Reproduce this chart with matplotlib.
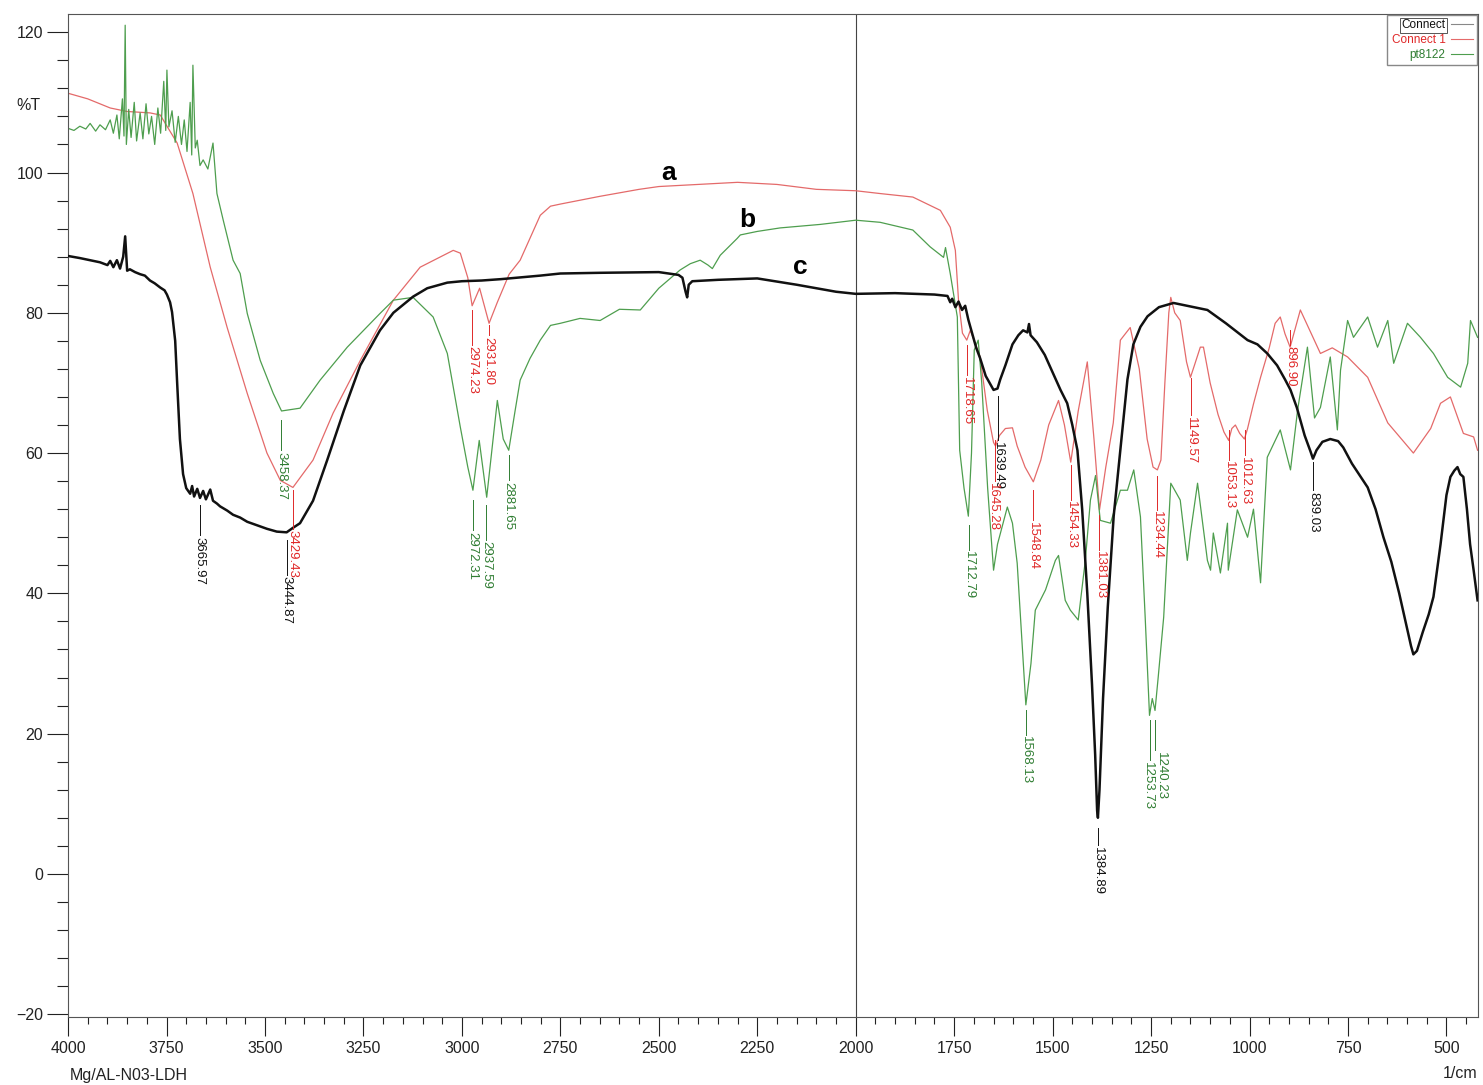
import matplotlib
matplotlib.use("Agg")
import matplotlib.pyplot as plt
from matplotlib.lines import Line2D
from matplotlib.ticker import MultipleLocator

plt.rcParams['font.family'] = ['Liberation Sans', 'DejaVu Sans']

# ---- spectrum c : Connect (black) ----
wn_c = [4000, 3970, 3944, 3919, 3900, 3893, 3885, 3876, 3868, 3860, 3855, 3850, 3843,
        3830, 3817, 3805, 3792, 3780, 3766, 3755, 3749, 3741, 3736, 3728, 3723, 3716,
        3708, 3700, 3690, 3685, 3680, 3672, 3665, 3657, 3650, 3639, 3632, 3622, 3614,
        3596, 3581, 3563, 3545, 3520, 3495, 3470, 3445, 3430, 3411, 3378, 3342, 3300,
        3258, 3208, 3174, 3124, 3088, 3037, 3000, 2950, 2900, 2801, 2750, 2650, 2500,
        2450, 2440, 2432, 2428, 2424, 2415, 2350, 2250, 2150, 2050, 2000, 1900, 1800,
        1767, 1760, 1755, 1747, 1739, 1730, 1722, 1714, 1704, 1694, 1684, 1670, 1658,
        1650, 1640, 1633, 1620, 1602, 1587, 1575, 1564, 1560, 1556, 1540, 1520, 1500,
        1480, 1463, 1450, 1437, 1425, 1412, 1400, 1392, 1387, 1385, 1381, 1372, 1360,
        1345, 1328, 1310, 1295, 1277, 1259, 1230, 1193, 1176, 1150, 1107, 1060, 1005,
        980, 955, 930, 910, 896, 880, 860, 845, 839, 830, 815, 795, 775, 762, 740, 720,
        700, 680, 660, 640, 620, 600, 590, 584, 575, 560, 545, 533, 515, 500, 490, 480,
        472, 465, 457, 448, 440, 431, 421]
t_c = [88.1, 87.8, 87.5, 87.2, 86.8, 87.4, 86.5, 87.5, 86.3, 88.0, 90.9, 86.0, 86.2,
       85.8, 85.5, 85.3, 84.6, 84.2, 83.6, 83.2, 82.6, 81.5, 80.1, 76.0, 70.0, 62.0,
       57.0, 55.0, 54.2, 55.3, 53.8, 54.9, 53.6, 54.6, 53.4, 54.8, 53.2, 52.8, 52.4,
       51.8, 51.2, 50.8, 50.2, 49.7, 49.2, 48.8, 48.7, 49.3, 50.0, 53.2, 59.0, 66.0,
       72.5, 77.5, 80.0, 82.3, 83.5, 84.3, 84.5, 84.6, 84.8, 85.3, 85.6, 85.7, 85.8,
       85.4, 85.0, 83.0, 82.2, 84.0, 84.5, 84.7, 84.9, 84.0, 83.0, 82.7, 82.8, 82.6,
       82.4, 81.5, 82.0, 80.8, 81.6, 80.4, 81.0, 79.0, 77.0, 75.0, 73.5, 71.0, 69.8,
       69.0, 69.2, 70.5, 72.5, 75.5, 76.8, 77.5, 77.2, 78.4, 76.8, 75.8, 74.0, 71.5,
       69.0, 67.1, 64.0, 60.4, 52.0, 40.0, 27.0, 17.0, 9.0, 8.0, 12.0, 25.0, 38.0,
       51.0, 60.4, 70.5, 75.5, 78.0, 79.5, 80.8, 81.4, 81.2, 80.9, 80.4, 78.5, 76.1,
       75.5, 74.2, 72.5, 70.5, 69.0, 66.5, 62.5, 60.2, 59.2, 60.4, 61.6, 62.0, 61.7,
       60.8, 58.5, 56.8, 55.1, 52.0, 48.0, 44.5, 40.0, 35.0, 32.5, 31.3, 31.8, 34.5,
       37.0, 39.5, 47.0, 54.0, 56.6, 57.5, 58.0, 57.0, 56.6, 52.0, 47.0, 43.3, 39.0]

# ---- spectrum a : Connect 1 (red) ----
wn_a = [4000, 3950, 3893, 3850, 3792, 3766, 3723, 3683, 3639, 3596, 3545, 3495, 3461,
        3429, 3378, 3327, 3258, 3174, 3106, 3022, 3004, 2985, 2974, 2955, 2931, 2910,
        2880, 2852, 2801, 2775, 2750, 2650, 2550, 2500, 2400, 2300, 2200, 2100, 2000,
        1938, 1855, 1785, 1760, 1747, 1739, 1729, 1718, 1709, 1684, 1666, 1650, 1645,
        1635, 1620, 1602, 1590, 1570, 1549, 1530, 1510, 1485, 1470, 1454, 1435, 1412,
        1395, 1381, 1365, 1346, 1328, 1303, 1280, 1260, 1245, 1234, 1225, 1215, 1205,
        1200, 1190, 1176, 1160, 1150, 1140, 1125, 1117, 1100, 1080, 1065, 1053, 1045,
        1036, 1025, 1013, 1005, 990, 972, 950, 935, 922, 910, 897, 871, 820, 790, 751,
        700, 649, 584, 540, 515, 490, 457, 431, 421]
t_a = [111.3, 110.5, 109.2, 108.7, 108.5, 108.2, 104.2, 97.0, 86.5, 77.9, 68.5, 60.0,
       56.1, 55.1, 59.0, 65.7, 73.2, 81.8, 86.5, 88.9, 88.5, 85.0, 81.0, 83.5, 78.5,
       81.5, 85.5, 87.5, 93.9, 95.2, 95.5, 96.6, 97.6, 98.0, 98.3, 98.6, 98.3, 97.6,
       97.4, 97.0, 96.5, 94.6, 92.2, 88.9, 81.8, 77.1, 76.1, 77.5, 73.7, 66.1, 61.5,
       61.0, 62.5, 63.5, 63.6, 61.0, 58.0, 55.9, 59.0, 64.0, 67.5, 64.0, 58.7, 66.0,
       73.0, 62.0, 51.9, 58.0, 64.3, 76.1, 77.9, 72.0, 62.0, 58.0, 57.6, 59.0, 70.0,
       80.0, 82.2, 80.0, 78.9, 73.0, 70.8, 72.5, 75.1, 75.1, 70.0, 65.5, 63.0, 61.8,
       63.5, 64.0, 62.8, 62.0, 63.5, 67.0, 70.8, 75.0, 78.5, 79.4, 77.0, 75.1, 80.4,
       74.2, 75.0, 73.7, 70.8, 64.3, 60.0, 63.5, 67.1, 68.0, 62.8, 62.3, 60.4]

# ---- spectrum b : pt8122 (green) ----
wn_b = [4000, 3985, 3970, 3955, 3944, 3930, 3919, 3905, 3893, 3885, 3876, 3870, 3862,
        3858, 3855, 3852, 3846, 3840, 3832, 3826, 3817, 3810, 3802, 3795, 3788, 3780,
        3772, 3765, 3757, 3752, 3749, 3744, 3736, 3728, 3720, 3712, 3705, 3698, 3690,
        3686, 3683, 3677, 3672, 3665, 3657, 3645, 3632, 3622, 3606, 3581, 3563, 3545,
        3512, 3479, 3458, 3411, 3360, 3291, 3208, 3174, 3124, 3073, 3037, 3004, 2985,
        2972, 2956, 2937, 2910, 2895, 2881, 2865, 2852, 2827, 2801, 2775, 2750, 2700,
        2649, 2600, 2547, 2500, 2446, 2420, 2395, 2375, 2364, 2344, 2301, 2293, 2250,
        2192, 2090, 2000, 1938, 1855, 1811, 1777, 1772, 1760, 1742, 1736, 1725, 1714,
        1706, 1699, 1689, 1680, 1665, 1650, 1640, 1615, 1602, 1590, 1580, 1568, 1555,
        1544, 1518, 1493, 1485, 1468, 1455, 1435, 1417, 1404, 1391, 1379, 1353, 1328,
        1310, 1294, 1277, 1265, 1254, 1247, 1240, 1232, 1218, 1200, 1176, 1158, 1150,
        1132, 1107, 1099, 1092, 1074, 1056, 1054, 1031, 1005, 990, 972, 955, 922, 896,
        878, 853, 835, 820, 795, 777, 769, 751, 736, 700, 675, 649, 634, 599, 566, 533,
        497, 464, 446, 439, 421]
t_b = [106.3, 106.0, 106.6, 106.2, 107.0, 105.9, 106.8, 106.1, 107.5, 105.6, 108.2,
       104.8, 110.5, 105.2, 121.0, 104.0, 109.0, 105.0, 110.0, 104.5, 108.5, 104.8,
       109.8, 105.5, 108.0, 104.0, 109.2, 105.6, 113.0, 106.0, 114.6, 106.5, 108.8,
       104.3, 108.0, 104.0, 107.5, 103.0, 110.0, 102.5, 115.3, 103.5, 104.6, 101.0,
       101.8, 100.5, 104.2, 97.0, 93.2, 87.5, 85.6, 79.9, 73.2, 68.5, 66.0, 66.4, 70.4,
       75.1, 79.9, 81.8, 82.2, 79.4, 74.2, 63.7, 58.0, 54.7, 61.8, 53.7, 67.5, 62.0,
       60.4, 66.0, 70.4, 73.5, 76.1, 78.2, 78.5, 79.2, 78.9, 80.5, 80.4, 83.5, 86.1,
       87.0, 87.5, 86.8, 86.3, 88.2, 90.6, 91.1, 91.6, 92.1, 92.6, 93.2, 92.9, 91.8,
       89.4, 87.9, 89.3, 85.6, 79.4, 60.4, 55.0, 51.0, 60.0, 74.7, 76.1, 70.0, 55.0,
       43.3, 47.0, 52.3, 50.0, 44.3, 35.0, 24.1, 30.0, 37.6, 40.5, 44.7, 45.4, 39.0,
       37.6, 36.2, 44.7, 53.3, 56.8, 50.4, 50.0, 54.7, 54.7, 57.6, 50.9, 36.6, 22.6,
       25.0, 23.3, 28.0, 36.6, 55.7, 53.3, 44.7, 48.6, 55.7, 44.7, 43.3, 48.6, 42.9,
       50.0, 43.3, 51.9, 48.0, 52.0, 41.5, 59.4, 63.3, 57.6, 66.1, 75.1, 65.0, 66.5,
       73.7, 63.3, 71.8, 78.9, 76.5, 79.4, 75.1, 78.9, 72.8, 78.5, 76.5, 74.2, 70.8,
       69.4, 72.8, 78.9, 76.5]

# ---- peak labels: (wavenumber text, line top, line bottom, text x-shift in pt) ----
peaks_c = [("3665.97", 52.6, 48.3, 0), ("3444.87", 47.6, 42.6, 0),
           ("1639.49", 68.2, 61.8, 0), ("1384.89", 6.5, 4.1, 0),
           ("839.03", 58.7, 54.7, 0)]
peaks_a = [("3429.43", 54.7, 49.2, 0), ("2974.23", 80.4, 75.4, 0),
           ("2931.80", 78.2, 76.8, 0), ("1718.65", 75.4, 71.1, 0),
           ("1645.28", 61.8, 56.0, -1.5), ("1548.84", 54.7, 50.4, 0),
           ("1454.33", 58.3, 53.3, 0), ("1381.03", 51.1, 46.2, 0),
           ("1234.44", 56.8, 51.9, 0), ("1149.57", 70.7, 65.4, 0),
           ("1053.13", 63.3, 59.0, 0), ("1012.63", 63.3, 59.7, 0),
           ("896.90", 77.5, 75.4, 0)]
peaks_b = [("3458.37", 64.7, 60.4, 0), ("2972.31", 53.3, 49.0, 0),
           ("2937.59", 52.6, 47.6, 0), ("2881.65", 59.7, 56.1, 0),
           ("1712.79", 49.7, 46.2, 0), ("1568.13", 23.4, 19.8, 0),
           ("1253.73", 21.9, 16.2, -1.5), ("1240.23", 21.9, 17.6, 4.5)]

x_ticks = [4000, 3750, 3500, 3250, 3000, 2750, 2500, 2250, 2000, 1750, 1500, 1250,
           1000, 750, 500]
y_ticks = [-20, 0, 20, 40, 60, 80, 100, 120]

col_c, col_a, col_b = "#111111", "#e46a6a", "#4e9e4e"
lab_c, lab_a, lab_b = "#111111", "#e02828", "#2f7d32"

fig = plt.figure(figsize=(14.83, 10.85), dpi=100)
ax = fig.add_axes([0.0459, 0.0627, 0.9507, 0.9244])

ax.plot(wn_a, t_a, color=col_a, lw=0.9, zorder=2)
ax.plot(wn_b, t_b, color=col_b, lw=0.9, zorder=2)
ax.plot(wn_c, t_c, color=col_c, lw=1.8, zorder=3)

ax.axvline(2000, color="#444444", lw=0.8, zorder=1)

for peaks, col in ((peaks_c, lab_c), (peaks_a, lab_a), (peaks_b, lab_b)):
    for txt, top, bot, dx in peaks:
        w = float(txt)
        ax.plot([w, w], [top, bot], color=col, lw=0.7, zorder=4)
        ax.annotate(txt, xy=(w, bot), xytext=(dx, -1), textcoords="offset points",
                    rotation=270, ha="center", va="top", fontsize=9.5, color=col,
                    zorder=5)

ax.set_xlim(4000, 420)
ax.set_ylim(-20.4, 122.6)
ax.set_xticks(x_ticks)
ax.set_yticks(y_ticks)
ax.xaxis.set_minor_locator(MultipleLocator(50))
ax.yaxis.set_minor_locator(MultipleLocator(4))
ax.tick_params(axis="both", which="major", direction="out", length=15, width=0.8,
               labelsize=11.5, colors="#222222")
ax.tick_params(axis="x", which="minor", direction="out", length=5, width=0.8,
               colors="#222222")
ax.tick_params(axis="y", which="minor", direction="out", length=8, width=0.8,
               colors="#222222")
ax.tick_params(axis="x", which="major", length=14, pad=3)
ax.tick_params(axis="y", pad=3)
for s in ax.spines.values():
    s.set_color("#555555")
    s.set_linewidth(0.8)

for letter, x, y in (("a", 2476, 100), ("b", 2275, 93.2), ("c", 2141, 86.5)):
    ax.text(x, y, letter, fontsize=19, fontweight="bold", ha="center", va="center")

fig.text(0.019, 0.903, "%T", fontsize=11.5, ha="center", va="center", color="#222222")
fig.text(0.047, 0.002, "Mg/AL-N03-LDH", fontsize=11.5, ha="left", va="bottom",
         color="#222222")
fig.text(0.996, 0.004, "1/cm", fontsize=11.5, ha="right", va="bottom", color="#222222")

handles = [Line2D([], [], color="#888888", lw=0.8),
           Line2D([], [], color=col_a, lw=0.8),
           Line2D([], [], color=col_b, lw=0.8)]
leg = ax.legend(handles, ["Connect", "Connect 1", "pt8122"], loc="upper right",
                markerfirst=False, fontsize=8.5, handlelength=1.8, handletextpad=0.5,
                borderaxespad=0.1, borderpad=0.35, labelspacing=0.25, fancybox=False,
                framealpha=1, edgecolor="#888888")
for t, c in zip(leg.get_texts(), [lab_c, lab_a, lab_b]):
    t.set_color(c)
leg.get_texts()[0].set_bbox(dict(facecolor="none", edgecolor="#555555", pad=1, lw=0.7))

fig.savefig("out.png", dpi=100)
